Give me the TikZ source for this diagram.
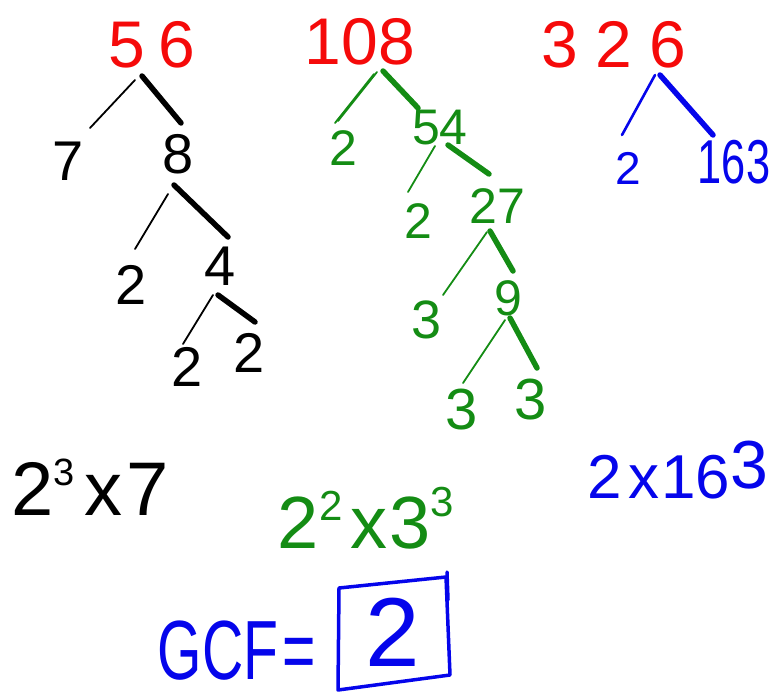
\documentclass[tikz,border=0pt]{standalone}
\usepackage{fontspec}
\setmainfont{Liberation Sans}
\definecolor{hred}{RGB}{245,10,10}
\definecolor{hgreen}{RGB}{20,140,20}
\definecolor{hblue}{RGB}{5,5,235}
\newcommand{\fs}[1]{\fontsize{#1}{#1}\selectfont}
\begin{document}
\begin{tikzpicture}[x=1pt,y=-1pt,
  num/.style={inner sep=0pt, anchor=center},
  top/.style={num, text=hred, font=\fs{66}},
  kid/.style={num, font=\fs{56}},
  thinln/.style={line width=1.8pt, line cap=round},
  thickln/.style={line width=5.5pt, line cap=round}]
\useasboundingbox (0,0) rectangle (773,698);

% ---------- 56 tree (black) ----------
\node[top] (n56) at (152,45) {5\hspace{14pt}6};
\node[kid] (n7) at (68,161) {7};
\node[kid] (n8) at (178,154) {8};
\node[kid] (a2) at (131,285) {2};
\node[kid] (n4) at (220,266) {4};
\node[kid] (b2) at (187,367) {2};
\node[kid] (c2) at (249,353) {2};
\draw[thinln] ([shift={(-17,35)}]n56.center) -- ([shift={(22,-33)}]n7.center);
\draw[thickln] ([shift={(-10,31)}]n56.center) -- ([shift={(3,-31)}]n8.center);
\draw[thinln] ([shift={(-10,40)}]n8.center) -- ([shift={(4,-36)}]a2.center);
\draw[thickln] ([shift={(-4,31)}]n8.center) -- ([shift={(8,-29)}]n4.center);
\draw[thinln] ([shift={(-7,29)}]n4.center) -- ([shift={(-4,-23)}]b2.center);
\draw[thickln] ([shift={(-2,29)}]n4.center) -- ([shift={(6,-31)}]c2.center);
\node[num, font=\fs{76}] (p56) at (90,487)
  {2\raisebox{30pt}{\fs{38}3}\hspace{10pt}x\hspace{4pt}7};

% ---------- 108 tree (green) ----------
\node[top] (n108) at (360,42) {108};
\begin{scope}[text=hgreen, draw=hgreen]
\node[kid, font=\fs{50}] (g2a) at (343,148) {2};
\node[kid, font=\fs{50}] (n54) at (440,128) {54};
\node[kid, font=\fs{50}] (g2b) at (418,221) {2};
\node[kid, font=\fs{50}] (n27) at (497,206) {27};
\node[kid, font=\fs{54}] (g3a) at (427,320) {3};
\node[kid, font=\fs{50}] (n9) at (508,298) {9};
\node[kid, font=\fs{58}] (g3b) at (462,410) {3};
\node[kid, font=\fs{58}] (g3c) at (531,400) {3};
\draw[thinln] ([shift={(17,30)}]n108.center) -- ([shift={(-5,-27)}]g2a.center);
\draw[thinln] ([shift={(14,32)}]n108.center) -- ([shift={(-8,-25)}]g2a.center);
\draw[thickln] ([shift={(23,29)}]n108.center) -- ([shift={(-22,-20)}]n54.center);
\draw[thinln] ([shift={(-5,18)}]n54.center) -- ([shift={(-10,-29)}]g2b.center);
\draw[thickln] ([shift={(8,17)}]n54.center) -- ([shift={(-8,-32)}]n27.center);
\draw[thinln] ([shift={(-10,26)}]n27.center) -- ([shift={(16,-25)}]g3a.center);
\draw[thickln] ([shift={(-7,25)}]n27.center) -- ([shift={(5,-27)}]n9.center);
\draw[thinln] ([shift={(-3,22)}]n9.center) -- ([shift={(1,-27)}]g3b.center);
\draw[thickln] ([shift={(2,20)}]n9.center) -- ([shift={(6,-32)}]g3c.center);
\node[num, font=\fs{74}] (p108) at (366,518)
  {2\raisebox{28pt}{\fs{42}2}\hspace{8pt}x\hspace{2pt}3\raisebox{32pt}{\fs{42}3}};
\end{scope}

% ---------- 326 tree (blue) ----------
\node[top] (n326) at (614,45) {3\hspace{17pt}2\hspace{17pt}6};
\begin{scope}[text=hblue, draw=hblue]
\node[kid, font=\fs{46}] (u2) at (628,168) {2};
\node[kid, font=\fs{62}] (n163) at (734,162) {\scalebox{0.7}[1]{163}};
\draw[thinln, line width=2.6pt] ([shift={(41,30)}]n326.center) -- ([shift={(-6,-33)}]u2.center);
\draw[thickln] ([shift={(46,30)}]n326.center) -- ([shift={(-21,-27)}]n163.center);
\node[num, font=\fs{62}] (p326) at (678,470)
  {2\hspace{6pt}x\hspace{2pt}16\raisebox{10pt}{\fs{68}3}};
\node[num, font=\fs{84}] (gcf) at (237,651) {\scalebox{0.68}[1]{GCF\hspace{6pt}=}};
\node[num, font=\fs{98}] (ans) at (393,632) {2};
\draw[line width=3.5pt, line join=round, line cap=round]
  (339,588) -- (446,577) -- (450,675) -- (338,690) -- cycle;
\draw[line width=3.5pt, line cap=round] (447,572) -- (448,600);
\end{scope}
\end{tikzpicture}
\end{document}
